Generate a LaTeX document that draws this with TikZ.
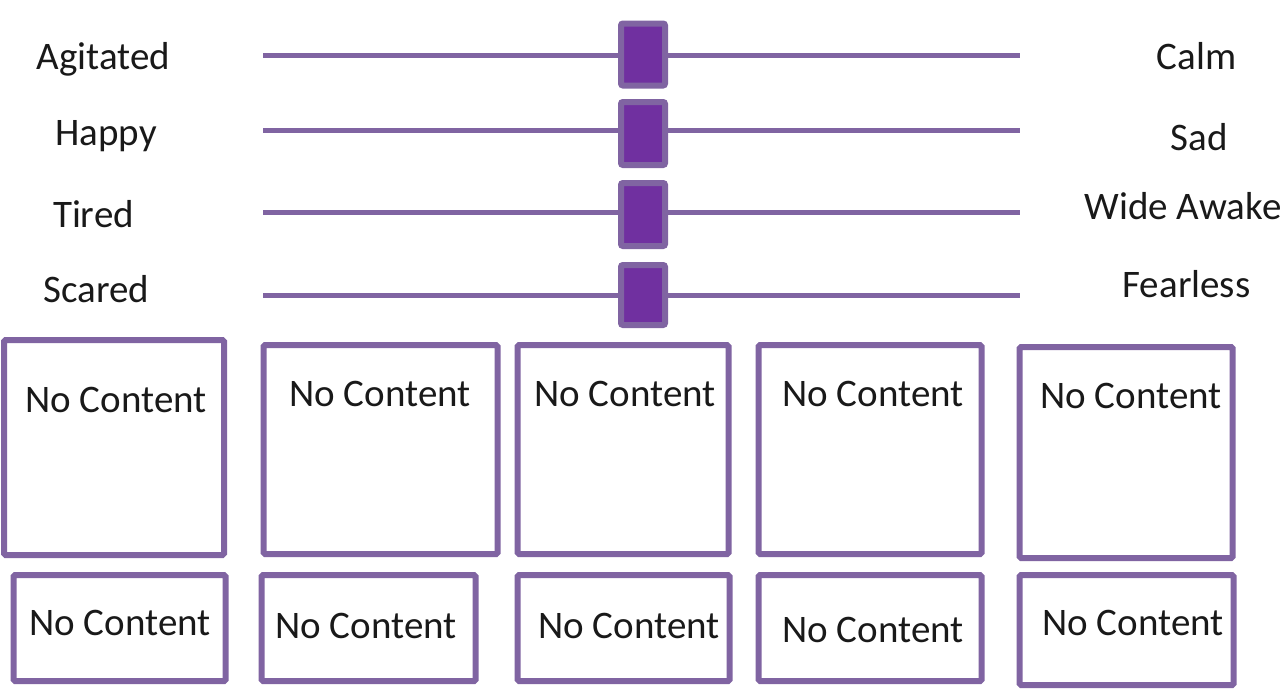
\documentclass[tikz,border=0pt]{standalone}
\usepackage{fontspec}
\setmainfont{Carlito}
\definecolor{boxpurple}{RGB}{128,100,162}
\definecolor{knobpurple}{RGB}{112,48,160}
\begin{document}
\begin{tikzpicture}[x=1pt,y=-1pt,
  lbl/.style={font=\fontsize{39}{45}\selectfont, text=black!90, inner sep=0pt, anchor=base},
  track/.style={draw=boxpurple, line width=5pt},
  knob/.style={draw=boxpurple, fill=knobpurple, line width=6pt, rounded corners=2pt, minimum width=44pt, inner sep=0pt},
  panel/.style={draw=boxpurple, line width=6pt, rounded corners=1.5pt, inner sep=0pt, fill=white}]
\useasboundingbox[fill=white] (0,0) rectangle (1286,696);
% slider tracks
\foreach \i/\y in {1/55,2/130,3/212,4/295}{
  \coordinate (l\i) at (263,\y);
  \coordinate (r\i) at (1020,\y);
  \draw[track] (l\i) -- (r\i);
}
\node[knob, minimum height=62pt] (k1) at (643,54.5) {};
\node[knob, minimum height=63pt] (k2) at (643,133.5) {};
\node[knob, minimum height=63pt] (k3) at (643,214.5) {};
\node[knob, minimum height=60pt] (k4) at (643,295) {};
% labels
\node[lbl] (a) at (103.5,69.5) {Agitated};
\node[lbl] (h) at (106,145.5) {Happy};
\node[lbl] (t) at (93.5,227) {Tired};
\node[lbl] (s) at (96.5,302.5) {Scared};
\node[lbl] (c) at (1196.5,69.5) {Calm};
\node[lbl] (sd) at (1199.5,150) {Sad};
\node[lbl] (w) at (1183,219.5) {Wide Awake};
\node[lbl] (f) at (1186.5,297) {Fearless};
% top panels
\node[panel, minimum width=220pt, minimum height=215pt] (p1) at (114,447.5) {};
\node[panel, minimum width=234pt, minimum height=209pt] (p2) at (380.5,449.5) {};
\node[panel, minimum width=211pt, minimum height=209pt] (p3) at (623,449.5) {};
\node[panel, minimum width=223pt, minimum height=209pt] (p4) at (870,449.5) {};
\node[panel, minimum width=213pt, minimum height=211pt] (p5) at (1126,452.5) {};
\node[lbl] (n1) at (116,412) {No Content};
\node[lbl] (n2) at (380,406) {No Content};
\node[lbl] (n3) at (625,406) {No Content};
\node[lbl] (n4) at (873,406) {No Content};
\node[lbl] (n5) at (1131,408) {No Content};
% bottom panels
\node[panel, minimum width=212pt, minimum height=106pt] (q1) at (119.5,628) {};
\node[panel, minimum width=214pt, minimum height=106pt] (q2) at (368.5,628) {};
\node[panel, minimum width=212pt, minimum height=106pt] (q3) at (623.5,628) {};
\node[panel, minimum width=223pt, minimum height=106pt] (q4) at (870,628) {};
\node[panel, minimum width=214pt, minimum height=110pt] (q5) at (1126.5,630) {};
\node[lbl] (m1) at (120,635) {No Content};
\node[lbl] (m2) at (366,638) {No Content};
\node[lbl] (m3) at (629,638) {No Content};
\node[lbl] (m4) at (873,642) {No Content};
\node[lbl] (m5) at (1133,635) {No Content};
\end{tikzpicture}
\end{document}
